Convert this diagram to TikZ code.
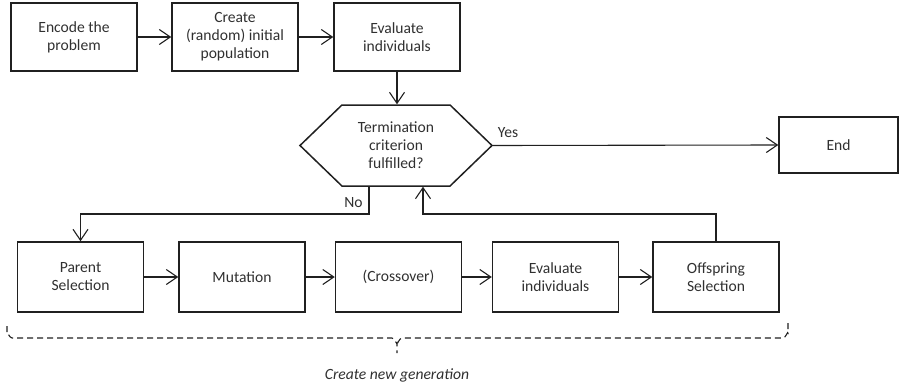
\documentclass[tikz,border=0pt]{standalone}
\usepackage{fontspec}
\setmainfont{Carlito}
\usetikzlibrary{arrows.meta,positioning,calc,shapes.symbols}
\definecolor{ink}{HTML}{202020}
\definecolor{txt}{HTML}{303030}
\tikzset{
  flow/.style={-{Straight Barb[length=11pt,width=15pt]}, line width=1.1pt, ink},
  stepbox/.style={draw=ink, line width=1.5pt, minimum width=126pt, minimum height=68pt,
    align=center, text=txt, inner sep=2pt},
  testbox/.style={draw=ink, line width=1.5pt, signal, signal to=east and west,
    signal pointer angle=88, minimum width=192pt, minimum height=81pt,
    align=center, text=txt, inner sep=2pt},
  bracket/.style={dashed, dash pattern=on 6pt off 4pt, line width=1.1pt, ink},
  lab/.style={font=\fontsize{15.6}{18}\selectfont},
  slab/.style={font=\fontsize{15.6}{18}\selectfont, text=txt},
}

\begin{document}
\begin{tikzpicture}[x=1pt,y=-1pt,lab]
\useasboundingbox (0,0) rectangle (900,388);

% ============ initialisation row ================
\node[stepbox] (encode) at (74,37) {Encode the\\problem};
\node[stepbox] (create) at (235,37) {Create\\(random) initial\\population};
\node[stepbox] (evalA) at (397,37) {Evaluate\\individuals};
\draw[flow] (encode) -- (create);
\draw[flow] (create) -- (evalA);

% ============ termination test ================
\node[testbox] (term) at (396,145.5) {Termination\\criterion\\fulfilled?};
\node[stepbox, minimum width=119pt, minimum height=56pt] (stop) at (838.5,145) {End};
\draw[flow] (evalA.south) -- (evalA.south |- term.north);
\draw[flow] (term.east) -- (stop.west);
\node[slab] (yes) at (508,133) {Yes};

% ============ generation loop ================
\node[stepbox, minimum height=70pt] (parent) at (80.5,277) {Parent\\Selection};
\node[stepbox, minimum height=70pt] (mutate) at (242,277) {Mutation};
\node[stepbox, minimum height=70pt] (cross) at (398.5,277) {(Crossover)};
\node[stepbox, minimum height=70pt] (evalB) at (555.5,277) {Evaluate\\individuals};
\node[stepbox, minimum height=70pt] (offspring) at (716,277) {Offspring\\Selection};
\foreach \a/\b in {parent/mutate, mutate/cross, cross/evalB, evalB/offspring}
  \draw[flow] (\a) -- (\b);

\coordinate (noout) at ($(term.south)+(-27,0)$);
\coordinate (back) at ($(term.south)+(27,0)$);
\draw[flow] (noout) |- (80.5,214) -- (parent.north);
\node[slab] (no) at (353.5,203) {No};
\draw[flow] (offspring.north) |- (423,214) -- (back);

% ============ dashed brace ================
\draw[bracket] (7,326) -- (7,333) to[out=90,in=180] (12,338) -- (392,338)
  to[out=0,in=-90] (397,343) -- (397,353);
\draw[bracket] (788,323) -- (788,333) to[out=90,in=0] (783,338) -- (402,338)
  to[out=180,in=-90] (397,343);
\node[slab, font=\fontsize{15.6}{18}\selectfont\itshape] (gen) at (397,375) {Create new generation};

\end{tikzpicture}
\end{document}
